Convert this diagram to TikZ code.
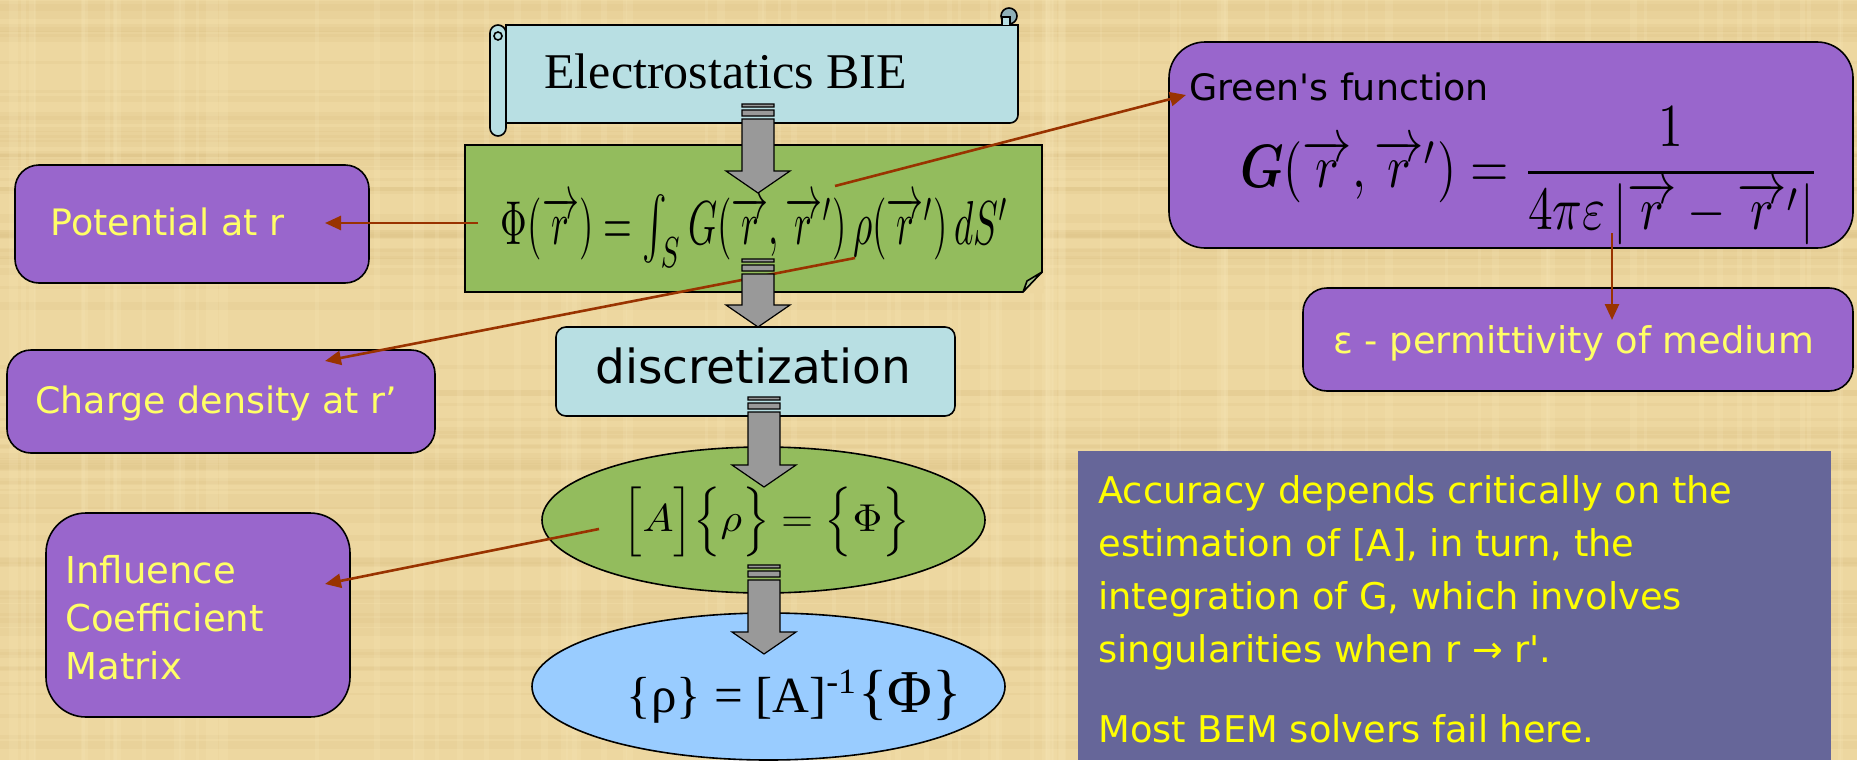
\documentclass[tikz,border=0pt]{standalone}
\usepackage{amsmath}
\usepackage{graphicx}
\usepackage[no-math]{fontspec}
\setmainfont{Liberation Serif}
\newfontfamily\labfont[Ligatures=TeXOff]{DejaVu Sans}
\usetikzlibrary{shapes.geometric,arrows.meta,calc}
\definecolor{bgc}{HTML}{EDD7A0}
\definecolor{texd}{HTML}{D9BE80}
\definecolor{texl}{HTML}{F7E6B8}
\definecolor{purp}{HTML}{9966CC}
\definecolor{laby}{HTML}{FFFF66}
\definecolor{accy}{HTML}{FFFF00}
\definecolor{scrollc}{HTML}{B8DFE3}
\definecolor{curlc}{HTML}{8FB0B8}
\definecolor{greenc}{HTML}{93BC5D}
\definecolor{foldc}{HTML}{A9C58A}
\definecolor{ellblue}{HTML}{99CCFF}
\definecolor{accbox}{HTML}{666699}
\definecolor{redc}{HTML}{993300}
\definecolor{grayc}{HTML}{999999}
\tikzset{
  purplebox/.style={draw=black, line width=0.8pt, fill=purp, rounded corners=12pt, inner sep=0pt},
  lab/.style={font=\labfont\fontsize{18.2}{21}\selectfont, text=laby, inner sep=0pt, anchor=base west},
  blacklab/.style={font=\labfont\fontsize{18.2}{21}\selectfont, text=black, inner sep=0pt, anchor=base west},
  redarrow/.style={draw=redc, line width=1.3pt, -{Triangle[length=8pt,width=7pt]}},
  garrow/.style={draw=black, fill=grayc, line width=0.6pt},
  outl/.style={draw=black, line width=0.8pt},
  eq/.style={inner sep=0pt, text=black},
}
\newcommand\grayarrow[2]{%
  \path[garrow] let \p1=(#1), \p2=(#2) in
    (\x1-8pt,\y1) rectangle (\x1+8pt,\y1-1.5pt)
    (\x1-8pt,\y1-3pt) rectangle (\x1+8pt,\y1-6pt)
    (\x1-8pt,\y1-7.5pt) -- (\x1-8pt,\y2+11pt) -- (\x1-16pt,\y2+11pt) -- (\x2,\y2)
    -- (\x1+16pt,\y2+11pt) -- (\x1+8pt,\y2+11pt) -- (\x1+8pt,\y1-7.5pt) -- cycle;
}
\newcommand\rp{\overrightarrow{r}{}'}
\begin{document}
\begin{tikzpicture}[x=0.5pt,y=-0.5pt]
\useasboundingbox (0,0) rectangle (1857,760);
\fill[bgc] (0,0) rectangle (1857,760);
% parchment texture
\pgfmathsetseed{11}
\foreach \i in {1,...,90} {
  \pgfmathsetmacro\yy{rnd*760}\pgfmathsetmacro\hh{2+rnd*7}
  \fill[texd, opacity=0.16] (0,\yy) rectangle (1857,\yy+\hh);
}
\foreach \i in {1,...,90} {
  \pgfmathsetmacro\xx{rnd*1857}\pgfmathsetmacro\ww{2+rnd*7}
  \fill[texl, opacity=0.2] (\xx,0) rectangle (\xx+\ww,760);
}

% ---- scroll ----
\draw[outl, fill=scrollc] (506,25) -- (1018,25) -- (1018,115) arc (0:90:8) -- (506,123) -- cycle;
\draw[outl, fill=curlc] (1009,16) circle (8);
\draw[outl, fill=scrollc] (1002,25) -- (1002,17) -- (1010,17) -- (1010,25);
\draw[outl, fill=scrollc] (490,33) -- (490,128) arc (180:0:8) -- (506,33) arc (0:-180:8) -- cycle;
\draw[outl] (498,36) circle (4);
\node[font=\fontsize{25}{30}\selectfont, inner sep=0pt, anchor=base west] (bie) at (544,88) {Electrostatics BIE};

% ---- green folded box ----
\node[outl, fill=greenc, minimum width=288.5pt, minimum height=73.5pt, inner sep=0pt] (gbox) at (753.5,218.5) {};
\fill[bgc] (1023,293) -- (1043.5,293) -- (1043.5,272) -- cycle;
\draw[outl, fill=foldc, line join=round] (1023,292) -- (1042,272) -- (1027,281) -- cycle;
\node[eq] (eqint) at (755,231) {\resizebox*{254pt}{36pt}{$\Phi(\overrightarrow{r})=\int_S G(\overrightarrow{r},\rp)\,\rho(\rp)\,dS'$}};

% ---- discretization ----
\node[outl, fill=scrollc, rounded corners=5pt, minimum width=199.5pt, minimum height=44.5pt, inner sep=0pt] (disc) at (755.5,371.5) {};
\node[font=\labfont\fontsize{23.5}{28}\selectfont, inner sep=0pt, anchor=base west] (disctext) at (595,383) {discretization};

% ---- ellipses ----
\node[outl, ellipse, fill=greenc, minimum width=221.5pt, minimum height=73pt, inner sep=0pt] (gell) at (763.5,520) {};
\node[eq] (eqA) at (766.5,522) {\resizebox*{143.5pt}{35pt}{$\Big[A\Big]\Big\{\rho\Big\}=\Big\{\Phi\Big\}$}};
\node[outl, ellipse, fill=ellblue, minimum width=236.5pt, minimum height=73.5pt, inner sep=0pt] (bell) at (768.5,686.5) {};
\node[eq] (eqinv) at (794.5,696.5) {\resizebox*{167.5pt}{26.5pt}{\{ρ\} = [A]\textsuperscript{-1}{\large\{Φ\}}}};

% ---- purple label boxes ----
\node[purplebox, minimum width=177pt, minimum height=59pt] (pot) at (192,224) {};
\node[lab] (pottext) at (50,235) {Potential at r};
\node[purplebox, minimum width=214pt, minimum height=51.5pt] (charge) at (221,401.5) {};
\node[lab] (chargetext) at (35,413) {Charge density at r’};
\node[purplebox, rounded corners=20pt, minimum width=152pt, minimum height=102pt] (infl) at (198,615) {};
\node[lab, font=\labfont\fontsize{18.5}{24}\selectfont] (infltext) at (65,583) {\begin{tabular}[t]{@{}l@{}}Influence\\Coefficient\\Matrix\end{tabular}};
\node[purplebox, rounded corners=18pt, minimum width=342pt, minimum height=103pt] (greens) at (1511,145) {};
\node[blacklab] (greenstext) at (1189,100) {Green's function};
\node[eq] (eqG) at (1530,176) {\resizebox*{290pt}{69pt}{$\boldsymbol{G}(\overrightarrow{r},\rp)=\dfrac{1}{4\pi\varepsilon\left|\overrightarrow{r}-\rp\right|}$}};
\node[purplebox, minimum width=275pt, minimum height=51.5pt] (eps) at (1578,339.5) {};
\node[lab, font=\labfont\fontsize{18.4}{21}\selectfont] (epstext) at (1333,353) {ε - permittivity of medium};

% ---- accuracy box ----
\node[fill=accbox, minimum width=376.5pt, minimum height=154.5pt, inner sep=0pt] (acc) at (1454.5,605.5) {};
\node[anchor=base west, inner sep=0pt, text=accy, font=\labfont\fontsize{18.4}{26.5}\selectfont] (acctext) at (1098,503)
  {\begin{tabular}[t]{@{}l@{}}Accuracy depends critically on the\\estimation of [A], in turn, the\\integration of G, which involves\\singularities when r → r'.\\[13.5pt]Most BEM solvers fail here.\end{tabular}};

% ---- red connectors ----
\coordinate (r1s) at (478,223);  \coordinate (r1e) at (325,223);
\coordinate (r2s) at (855,258);  \coordinate (r2e) at (325,361);
\coordinate (r3s) at (835,186);  \coordinate (r3e) at (1186,95);
\coordinate (r4s) at (1612,233); \coordinate (r4e) at (1612,320);
\coordinate (r5s) at (599,529);  \coordinate (r5e) at (325,584);
\draw[redarrow] (r1s) -- (r1e);
\draw[redarrow] (r2s) -- (r2e);
\draw[redarrow] (r3s) -- (r3e);
\draw[redarrow] (r4s) -- (r4e);
\draw[redarrow] (r5s) -- (r5e);

% ---- gray block arrows ----
\coordinate (a1t) at (758,104); \coordinate (a1h) at (758,193);
\coordinate (a2t) at (758,259); \coordinate (a2h) at (758,327);
\coordinate (a3t) at (764,397); \coordinate (a3h) at (764,487);
\coordinate (a4t) at (764,565); \coordinate (a4h) at (764,654);
\grayarrow{a1t}{a1h}
\grayarrow{a2t}{a2h}
\grayarrow{a3t}{a3h}
\grayarrow{a4t}{a4h}
\end{tikzpicture}
\end{document}
